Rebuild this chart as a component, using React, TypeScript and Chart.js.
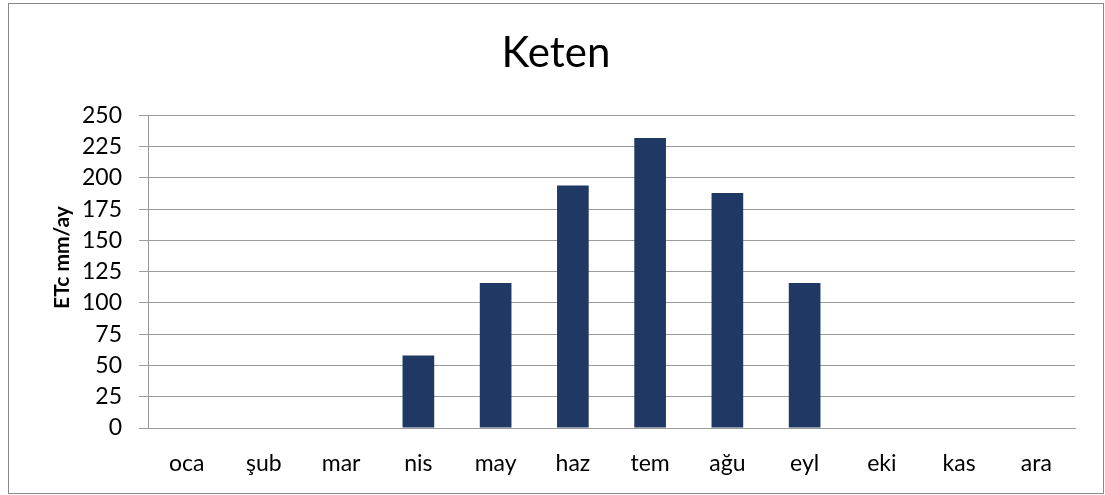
import React, { useEffect, useRef } from "react";
import { Chart, registerables } from "chart.js";

Chart.register(...registerables);

const chartTitle = "Keten";
const yAxisTitle = "ETc mm/ay";
const months = ["oca", "şub", "mar", "nis", "may", "haz", "tem", "ağu", "eyl", "eki", "kas", "ara"];
const etcValues = [0, 0, 0, 58, 116, 194, 232, 188, 116, 0, 0, 0];
const yMin = 0;
const yMax = 250;
const yStep = 25;

const FONT = "Lato, 'Open Sans', sans-serif";
const GRID = "#9b9b9b";

const yTitlePlugin = {
  id: "yTitlePlugin",
  afterDraw(chart: any) {
    const ctx = chart.ctx;
    ctx.save();
    ctx.translate(69, 257.5);
    ctx.rotate(-Math.PI / 2);
    ctx.font = "bold 21px Lato, 'Open Sans', sans-serif";
    ctx.textAlign = "center";
    ctx.textBaseline = "alphabetic";
    ctx.fillStyle = "#000";
    ctx.fillText(yAxisTitle, 0, 0);
    ctx.restore();
  },
};

export default function App() {
  const canvasRef = useRef<HTMLCanvasElement | null>(null);

  useEffect(() => {
    document.body.style.margin = "0";
    const canvas = canvasRef.current;
    if (!canvas) return;
    const chart = new Chart(canvas, {
      type: "bar",
      data: {
        labels: months,
        datasets: [
          {
            label: yAxisTitle,
            data: etcValues,
            backgroundColor: "#203864",
            borderWidth: 0,
            categoryPercentage: 1,
            barPercentage: 0.41,
            yAxisID: "y",
          },
        ],
      },
      options: {
        animation: false,
        responsive: false,
        maintainAspectRatio: false,
        layout: { padding: { left: 7, right: 0, top: 0, bottom: 0 } },
        plugins: {
          legend: { display: false },
          tooltip: { enabled: false },
          title: {
            display: true,
            text: chartTitle,
            color: "#000",
            font: { family: FONT, size: 42, weight: "normal", lineHeight: 1.2 },
            padding: { top: 28, bottom: 37 },
          },
        },
        scales: {
          x: {
            grid: { display: false, drawTicks: false },
            border: { display: true, color: GRID, width: 1 },
            ticks: {
              color: "#000",
              font: { family: FONT, size: 23 },
              padding: 22,
              maxRotation: 0,
              autoSkip: false,
            },
            afterFit: (scale: any) => {
              scale.height = 67;
            },
          },
          y: {
            position: "left",
            min: yMin,
            max: yMax,
            grid: { color: GRID, lineWidth: 1, drawTicks: true, tickLength: 9, tickColor: GRID },
            border: { display: true, color: GRID, width: 1 },
            ticks: {
              stepSize: yStep,
              color: "#000",
              font: { family: FONT, size: 23 },
              padding: 17,
            },
            title: { display: false },
            afterFit: (scale: any) => {
              scale.width = 141;
            },
          },
          yRight: {
            position: "right",
            display: true,
            min: yMin,
            max: yMax,
            grid: { display: false, drawTicks: false },
            border: { display: false },
            ticks: { display: false },
            afterFit: (scale: any) => {
              scale.width = 30;
            },
          },
        },
      },
      plugins: [yTitlePlugin],
    });
    return () => chart.destroy();
  }, []);

  return (
    <div style={{ position: "fixed", left: 0, top: 0, width: 1105, height: 495, background: "#fff" }}>
      <canvas ref={canvasRef} width={1105} height={495} style={{ display: "block", width: 1105, height: 495 }} />
      <div
        style={{
          position: "absolute",
          left: 8,
          top: 3,
          width: 1096,
          height: 491,
          border: "1px solid #898989",
          boxSizing: "border-box",
          pointerEvents: "none",
        }}
      />
    </div>
  );
}
